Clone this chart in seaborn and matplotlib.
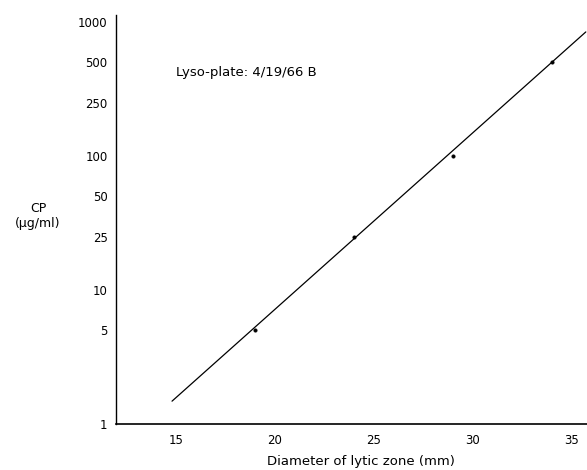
import seaborn as sns
import matplotlib.pyplot as plt
import matplotlib.ticker as mticker
import pandas as pd

# measured points (diameter mm, CP ug/ml)
diameter = [19, 24, 29, 34]
cp = [5, 25, 100, 500]

# fitted standard line, end points
line_x = [14.8, 35.7]
line_y = [1.48, 840]

y_ticks = [1, 5, 10, 25, 50, 100, 250, 500, 1000]
x_ticks = [15, 20, 25, 30, 35]

pts = pd.DataFrame({"diameter": diameter, "cp": cp})
fit = pd.DataFrame({"diameter": line_x, "cp": line_y})

sns.set_style("white")
plt.rcParams['font.family'] = ['DejaVu Sans']
plt.rcParams['text.color'] = 'black'
plt.rcParams['axes.labelcolor'] = 'black'

fig = plt.figure(figsize=(5.87, 4.70), dpi=100)
ax = fig.add_axes([0.1976, 0.0979, 0.8024, 0.870])

sns.lineplot(data=fit, x="diameter", y="cp", color="black", linewidth=0.9, ax=ax)
sns.scatterplot(data=pts, x="diameter", y="cp", color="black", s=7, edgecolor="black", ax=ax)

ax.set_yscale("log")
ax.set_xlim(11.97, 35.76)
ax.set_ylim(1, 1122)
ax.set_yticks(y_ticks)
ax.yaxis.set_major_formatter(mticker.FixedFormatter([str(v) for v in y_ticks]))
ax.yaxis.set_minor_locator(mticker.NullLocator())
ax.set_xticks(x_ticks)

ax.tick_params(axis="both", length=0, labelsize=8.5, colors="black")
ax.tick_params(axis="y", pad=6)
ax.tick_params(axis="x", pad=7)

for side in ["top", "right"]:
    ax.spines[side].set_visible(False)
ax.spines["left"].set_color("black")
ax.spines["bottom"].set_color("black")
ax.spines["left"].set_linewidth(1.0)
ax.spines["bottom"].set_linewidth(1.2)

ax.set_xlabel("Diameter of lytic zone (mm)", fontsize=9.5)
ax.xaxis.set_label_coords(0.52, -0.077)
ax.set_ylabel("")
fig.text(38 / 587, 1 - 216 / 470, "CP\n(\u03bcg/ml)", ha="center", va="center",
         fontsize=9, linespacing=1.2)

ax.text(15, 420, "Lyso-plate: 4/19/66 B", fontsize=9.5, ha="left", va="center")

fig.savefig("out.png", dpi=100)
